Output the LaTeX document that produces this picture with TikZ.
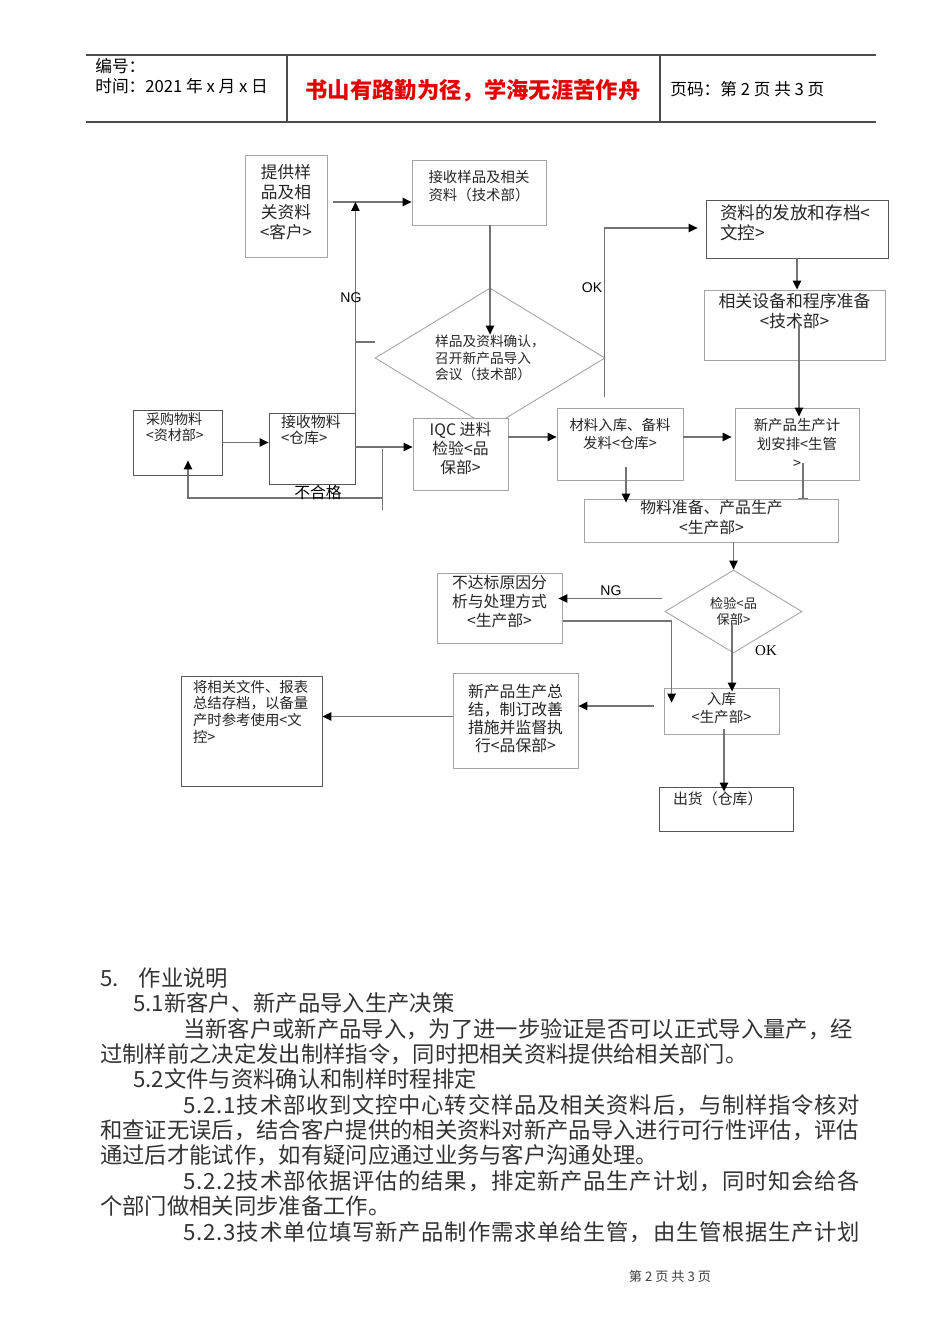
\documentclass[tikz,border=0pt]{standalone}
\usepackage{fontspec}
\setmainfont{Noto Sans CJK SC}
\newfontfamily\latinsans{Liberation Sans}
\newfontfamily\latinserif{Liberation Serif}
\usepackage{tikz}
\usetikzlibrary{arrows.meta, positioning, shapes.geometric, calc}

\definecolor{linegray}{RGB}{115,115,115}
\definecolor{boxgray}{RGB}{165,165,165}
\definecolor{darkbox}{RGB}{85,85,85}
\definecolor{mottored}{RGB}{228,0,0}

\newdimen\pxu \pxu=0.02cm
\newcommand{\flowtext}[4]{\parbox[c][#2\pxu][t]{#1\pxu}{\vspace*{#3\pxu}#4}}

\begin{document}
\begin{tikzpicture}[
    x=0.02cm, y=-0.02cm,
    >={Triangle[length=0.18cm, width=0.17cm, color=black]},
    box/.style={draw=#1, fill=white, inner sep=0pt, line width=0.5pt, text=black!85},
    box/.default=boxgray,
    decision/.style={draw=boxgray, diamond, aspect=#1, inner sep=0pt, line width=0.5pt, text=black!85},
    decision/.default=1.64,
    arr/.style={->, draw=linegray, line width=0.6pt},
    link/.style={draw=linegray, line width=0.6pt},
    stub/.style={-{Bar[width=0.2cm]}, draw=linegray, line width=0.6pt},
    flag/.style={font=\latinsans\fontsize{8}{9}\selectfont, inner sep=0pt},
    hdr/.style={anchor=west, inner sep=0pt, font=\fontsize{9.5}{11}\selectfont},
    hrule/.style={draw=black!70, line width=0.6pt},
    para/.style={anchor=west, inner sep=0pt, text=black!80, font=\fontsize{12.7}{15}\selectfont},
    wide/.style={para, font=\fontsize{12.7}{15}\selectfont\addfontfeature{LetterSpace=3.6}},
]
\path[use as bounding box, fill=white] (0,0) rectangle (950,1344);

% Page header
\draw[hrule] (86,55) -- (876,55);
\draw[hrule] (86,122) -- (876,122);
\draw[hrule] (287,55) -- (287,122);
\draw[hrule] (660,55) -- (660,122);
\node[hdr] (docno) at (95,66) {编号：};
\node[hdr] (docdate) at (95,86) {时间：2021 年 x 月 x 日};
\node[inner sep=0pt, text=mottored, font=\fontsize{12.7}{15}\selectfont\bfseries] (motto) at (473,91) {书山有路勤为径，学海无涯苦作舟};
\node[hdr] (pageno) at (670,89) {页码：第 2 页 共 3 页};

% Row 1: samples from customer
\node[box, font=\fontsize{9.5}{11.4}\selectfont] (supply) at (286,206)
    {\flowtext{82}{102}{9}{\centering 提供样\\品及相\\关资料\\<客户>}};
\node[box, font=\fontsize{8.2}{10.2}\selectfont] (recvsample) at (479,192.5)
    {\flowtext{134}{65}{10}{\centering 接收样品及相关\\资料（技术部）}};
\node[box=darkbox, font=\fontsize{10}{11.4}\selectfont] (docdist) at (797,229)
    {\flowtext{182}{58}{5}{\raggedright\leftskip=14\pxu\relax 资料的发放和存档<\\文控>}};
\node[box, font=\fontsize{9.6}{11.4}\selectfont] (equip) at (794.5,325)
    {\flowtext{181}{70}{3}{\centering 相关设备和程序准备\\<技术部>}};

% Row 2: confirmation meeting
\node[decision, minimum width=4.6cm, minimum height=2.8cm, align=left, font=\fontsize{7.8}{9.6}\selectfont] (confirm) at (490,358)
    {样品及资料确认，\\召开新产品导入\\会议（技术部）};

% Row 3: material flow
\node[box=darkbox, font=\fontsize{8}{9}\selectfont] (purchase) at (177.5,442.5)
    {\flowtext{89}{65}{3}{\raggedright\leftskip=13\pxu\relax 采购物料\\<资材部>}};
\node[box=darkbox, font=\fontsize{8.5}{9.1}\selectfont] (recvmat) at (312,448.5)
    {\flowtext{86}{71}{2}{\raggedright\leftskip=12\pxu\relax 接收物料\\<仓库>}};
\node[box, font=\fontsize{9}{10.8}\selectfont] (iqc) at (460.5,454)
    {\flowtext{95}{72}{4}{\centering IQC 进料\\检验<品\\保部>}};
\node[box, font=\fontsize{8.2}{10.2}\selectfont] (matin) at (620,444)
    {\flowtext{126}{72}{10}{\centering 材料入库、备料\\发料<仓库>}};
\node[box, font=\fontsize{8.2}{10.8}\selectfont] (plan) at (797,444)
    {\flowtext{124}{72}{10}{\centering 新产品生产计\\划安排<生管\\>}};
\node[box, font=\fontsize{9}{11.3}\selectfont] (produce) at (711.5,520.5)
    {\flowtext{254}{43}{1}{\centering 物料准备、产品生产\\<生产部>}};

% Row 4: inspection
\node[box, font=\fontsize{9}{11}\selectfont] (analysis) at (499.5,608)
    {\flowtext{125}{70}{2}{\centering 不达标原因分\\析与处理方式\\<生产部>}};
\node[decision=1.65, minimum width=2.74cm, minimum height=1.66cm, align=center, font=\fontsize{7.5}{9}\selectfont] (check) at (733.5,611.5)
    {检验<品\\保部>};

% Row 5: closing
\node[box=darkbox, font=\fontsize{8.2}{9.5}\selectfont] (archive) at (251.5,731)
    {\flowtext{141}{110}{4}{\raggedright\leftskip=12\pxu\relax 将相关文件、报表\\总结存档，以备量\\产时参考使用<文\\控>}};
\node[box, font=\fontsize{9}{10.2}\selectfont] (summary) at (515.5,720.5)
    {\flowtext{125}{95}{11}{\centering 新产品生产总\\结，制订改善\\措施并监督执\\行<品保部>}};
\node[box, font=\fontsize{8.3}{10.2}\selectfont] (stockin) at (721.5,711)
    {\flowtext{115}{46}{4}{\centering 入库\\<生产部>}};
\node[box=darkbox, font=\fontsize{8.5}{10}\selectfont] (ship) at (726,809)
    {\flowtext{134}{44}{5}{\raggedright\leftskip=14\pxu\relax 出货（仓库）}};

% Connectors
\draw[arr] ($(supply.east)+(6,-4)$) coordinate (c1) -- (c1 -| recvsample.west);
\draw[arr] (recvmat.north east) -- (recvmat.north east |- c1);
\draw[link] ($(confirm.west)+(0,-16)$) -- ++(-20,0);
\draw[arr] (confirm.north |- recvsample.south) -- ($(confirm.north)+(0,47)$);
\draw[arr] ($(confirm.east)+(-1,39)$) |- ($(docdist.west)+(-8,-1)$);
\draw[arr] (docdist.south) -- (docdist.south |- equip.north);
\draw[arr] ($(equip.north)+(4.5,33)$) coordinate (c2) -- ($(c2 |- plan.north)+(0,9)$);
\draw[arr] (purchase.east) -- (purchase.east -| recvmat.west);
\draw[arr] ($(recvmat.east)+(0,-1.5)$) coordinate (c3) -- (c3 -| iqc.west);
\coordinate (reject) at ($(c3)+(27,51)$);
\draw[link] ($(c3)+(27,2)$) -- ($(reject)+(0,12)$);
\draw[arr] (reject) -| ($(purchase.south)+(10.5,-15)$);
\draw[arr] ($(iqc.east)+(0,-17)$) coordinate (c4) -- (c4 -| matin.west);
\draw[arr] ($(matin.east)+(0,-7)$) coordinate (c5) -- ($(c5 -| plan.west)+(-3,0)$);
\draw[arr] ($(matin.south)+(6,-13)$) coordinate (c6) -- ($(c6 |- produce.north)+(0,4)$);
\draw[stub] ($(plan.south)+(6,-17)$) coordinate (c7) -- (c7 |- produce.north);
\draw[arr] (produce.south -| check.north) -- (check.north);
\draw[arr] ($(check.west)+(-3,-13)$) coordinate (c8) -- ($(c8 -| analysis.east)+(-4,0)$);
\draw[arr] ($(analysis.east)+(1,13)$) -| ($(stockin.north west)+(8,15)$);
\draw[arr] ($(check.center)+(-1.5,13.5)$) coordinate (c9) -- ($(c9 |- stockin.north)+(0,4)$);
\draw[arr] ($(stockin.west)+(-10,-5)$) coordinate (c10) -- (c10 -| summary.east);
\draw[arr] ($(summary.west)+(0,-4)$) coordinate (c11) -- (c11 -| archive.east);
\draw[arr] ($(stockin.south)+(2.5,-5)$) coordinate (c12) -- ($(c12 |- ship.north)+(0,5)$);

% Connector labels
\node[flag] (ng1) at (351,298) {NG};
\node[flag] (ok1) at (592,288) {OK};
\node[inner sep=0pt, font=\fontsize{9}{10}\selectfont] (fail) at (318,492) {不合格};
\node[flag] (ng2) at (611,591) {NG};
\node[flag, font=\latinserif\fontsize{8.5}{9}\selectfont] (ok2) at (766,651) {OK};

% Section 5 text
\node[para] (s5) at (100,978) {5.\hspace{0.4cm}作业说明};
\node[para] (s51) at (133,1003) {5.1新客户、新产品导入生产决策};
\node[para] (s51a) at (183,1029) {当新客户或新产品导入，为了进一步验证是否可以正式导入量产，经};
\node[para] (s51b) at (100,1054) {过制样前之决定发出制样指令，同时把相关资料提供给相关部门。};
\node[para] (s52) at (133,1079) {5.2文件与资料确认和制样时程排定};
\node[wide] (s521a) at (183,1105) {5.2.1技术部收到文控中心转交样品及相关资料后，与制样指令核对};
\node[para] (s521b) at (100,1130) {和查证无误后，结合客户提供的相关资料对新产品导入进行可行性评估，评估};
\node[para] (s521c) at (100,1155) {通过后才能试作，如有疑问应通过业务与客户沟通处理。};
\node[wide] (s522a) at (183,1181) {5.2.2技术部依据评估的结果，排定新产品生产计划，同时知会给各};
\node[para] (s522b) at (100,1206) {个部门做相关同步准备工作。};
\node[wide] (s523a) at (183,1232) {5.2.3技术单位填写新产品制作需求单给生管，由生管根据生产计划};

% Footer
\node[inner sep=0pt, text=black!75, font=\fontsize{7.5}{9}\selectfont] (footer) at (670,1276) {第 2 页 共 3 页};

\end{tikzpicture}
\end{document}
